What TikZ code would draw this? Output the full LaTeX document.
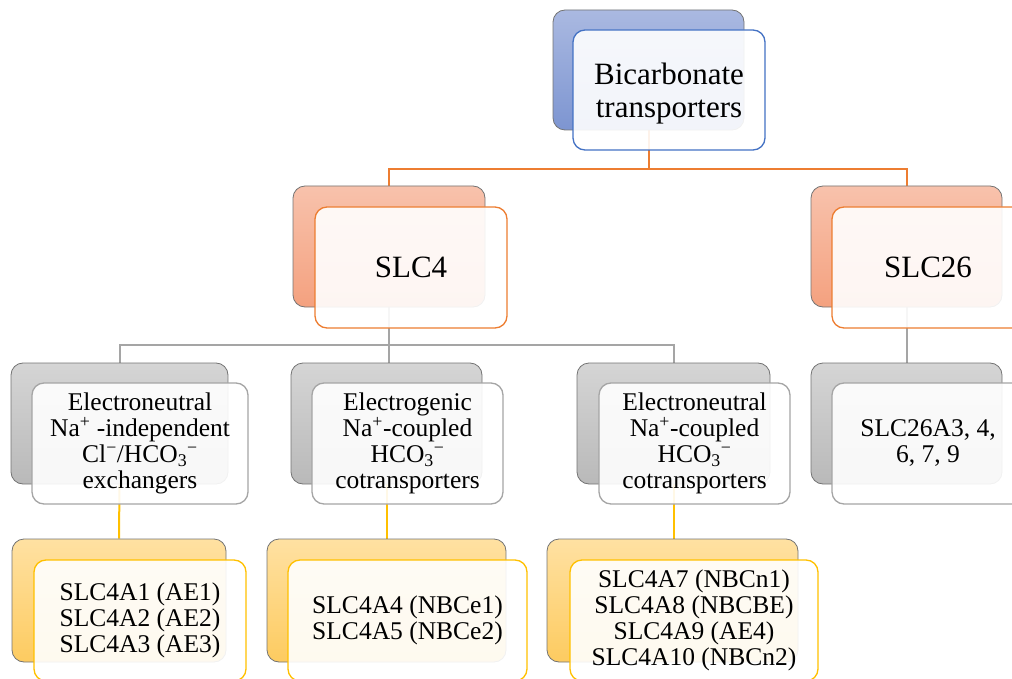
\documentclass[tikz,border=0pt]{standalone}
\usepackage{fontspec}
\setmainfont{Liberation Serif}
\pgfdeclarelayer{bg}
\pgfsetlayers{bg,main}
\definecolor{rootTop}{HTML}{AAB9E1}
\definecolor{rootBot}{HTML}{7D95D1}
\definecolor{blueEdge}{HTML}{4472C4}
\definecolor{orTop}{HTML}{F8C2AC}
\definecolor{orBot}{HTML}{F4A17F}
\definecolor{orEdge}{HTML}{ED7D31}
\definecolor{grTop}{HTML}{D5D5D5}
\definecolor{grBot}{HTML}{B9B9B9}
\definecolor{grEdge}{HTML}{A5A5A5}
\definecolor{yeTop}{HTML}{FFE1A2}
\definecolor{yeBot}{HTML}{FDCB60}
\definecolor{yeEdge}{HTML}{FFC000}
\begin{document}
\begin{tikzpicture}[x=1pt,y=-1pt,
  backbox/.style={rounded corners=12pt, draw=black!55, line width=0.8pt, inner sep=0pt},
  blueback/.style={backbox, top color=rootTop, bottom color=rootBot},
  orback/.style={backbox, top color=orTop, bottom color=orBot},
  grback/.style={backbox, top color=grTop, bottom color=grBot},
  yeback/.style={backbox, top color=yeTop, bottom color=yeBot},
  frontbox/.style={rounded corners=12pt, fill=white, fill opacity=0.9, text opacity=1,
    line width=1.3pt, align=center, inner sep=0pt, text=black},
  bigtxt/.style={font=\fontsize{31}{31}\selectfont},
  smalltxt/.style={font=\fontsize{25.5}{26}\selectfont},
  conn/.style={line width=2pt}
]
\useasboundingbox (0,0) rectangle (1012,679);
\clip (0,0) rectangle (1012,679);

% root
\node[blueback, minimum width=191pt, minimum height=120pt] (rootb) at (648.5,70) {};
\node[frontbox, draw=blueEdge, minimum width=192pt, minimum height=120pt] (root) at (669,90) {};
\node[align=center, inner sep=0pt, font=\fontsize{31}{32.5}\selectfont] (roottext) at (669,93.5) {Bicarbonate\\transporters};

% level 1
\node[orback, minimum width=192pt, minimum height=121pt] (slcfb) at (389,246.5) {};
\node[frontbox, draw=orEdge, bigtxt, minimum width=192pt, minimum height=121pt] (slcf) at (411,267.5) {SLC4};
\node[orback, minimum width=191pt, minimum height=121pt] (slctb) at (906.5,246.5) {};
\node[frontbox, draw=orEdge, bigtxt, minimum width=192pt, minimum height=121pt] (slct) at (928,267.5) {SLC26};

% level 2
\node[grback, minimum width=217pt, minimum height=121pt] (twoab) at (119.5,423.5) {};
\node[frontbox, draw=grEdge, smalltxt, minimum width=216pt, minimum height=121pt] (twoa) at (140,443.5)
  {Electroneutral\\Na\textsuperscript{+} -independent\\Cl\textsuperscript{−}/HCO\textsubscript{3}\textsuperscript{−}\\exchangers};
\node[grback, minimum width=191pt, minimum height=121pt] (twobb) at (386.5,423.5) {};
\node[frontbox, draw=grEdge, smalltxt, minimum width=191pt, minimum height=121pt] (twob) at (407.5,443.5)
  {Electrogenic\\Na\textsuperscript{+}-coupled\\HCO\textsubscript{3}\textsuperscript{−}\\cotransporters};
\node[grback, minimum width=193pt, minimum height=121pt] (twocb) at (673.5,423.5) {};
\node[frontbox, draw=grEdge, smalltxt, minimum width=191pt, minimum height=121pt] (twoc) at (694.5,443.5)
  {Electroneutral\\Na\textsuperscript{+}-coupled\\HCO\textsubscript{3}\textsuperscript{−}\\cotransporters};
\node[grback, minimum width=191pt, minimum height=121pt] (twodb) at (906.5,423.5) {};
\node[frontbox, draw=grEdge, smalltxt, minimum width=192pt, minimum height=121pt] (twod) at (928,443.5)
  {SLC26A3, 4,\\6, 7, 9};

% level 3
\node[yeback, minimum width=214pt, minimum height=123pt] (threeab) at (119,600.5) {};
\node[frontbox, draw=yeEdge, smalltxt, minimum width=212pt, minimum height=121pt] (threea) at (140,620.5)
  {SLC4A1 (AE1)\\SLC4A2 (AE2)\\SLC4A3 (AE3)};
\node[yeback, minimum width=239pt, minimum height=123pt] (threebb) at (386.5,600.5) {};
\node[frontbox, draw=yeEdge, smalltxt, minimum width=239pt, minimum height=121pt] (threeb) at (407.5,620.5)
  {SLC4A4 (NBCe1)\\SLC4A5 (NBCe2)};
\node[yeback, minimum width=251pt, minimum height=123pt] (threecb) at (672.5,600.5) {};
\node[frontbox, draw=yeEdge, smalltxt, minimum width=248pt, minimum height=121pt] (threec) at (694,620.5)
  {SLC4A7 (NBCn1)\\SLC4A8 (NBCBE)\\SLC4A9 (AE4)\\SLC4A10 (NBCn2)};

\coordinate (busone) at (648.5,169);
\coordinate (bustwo) at (389,345);

\begin{pgfonlayer}{bg}
\draw[conn, draw=orEdge] (rootb.south) -- (busone);
\draw[conn, draw=orEdge] (slcfb.north) |- (busone) -| (slctb.north);
\draw[conn, draw=grEdge] (slcfb.south) -- (bustwo);
\draw[conn, draw=grEdge] (twoab.north) |- (bustwo) -| (twocb.north);
\draw[conn, draw=grEdge] (bustwo) -- (twobb.north -| bustwo);
\draw[conn, draw=grEdge] (slctb.south) -- (twodb.north);
\draw[conn, draw=yeEdge] (twoab.south) -- (threeab.north);
\draw[conn, draw=yeEdge] (twobb.south) -- (threebb.north);
\draw[conn, draw=yeEdge] (twocb.south) -- (twocb.south |- threecb.north);
\end{pgfonlayer}
\end{tikzpicture}
\end{document}
